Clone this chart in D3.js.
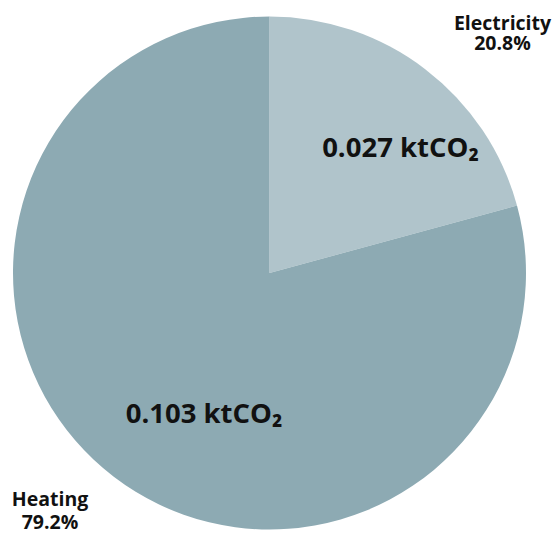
<!DOCTYPE html>
<html>
<head>
<meta charset="utf-8">
<script src="https://cdn.jsdelivr.net/npm/d3@7"></script>
<style>
  html, body { margin: 0; padding: 0; background: #ffffff; }
  svg { display: block; }
  text { font-family: "Open Sans", "Noto Sans", sans-serif; font-weight: 700; fill: #111111; }
</style>
</head>
<body>
<svg id="chart" width="556" height="533"></svg>
<script>
// Emissions by source
const categories = ["Electricity", "Heating"];
const emissions = [0.027, 0.103];           // ktCO2
const shares = ["20.8%", "79.2%"];
const colors = ["#b0c4cb", "#8daab3"];

const width = 556, height = 533;
const cx = 269.5, cy = 273, radius = 256.5;

const svg = d3.select("#chart");
const g = svg.append("g").attr("transform", `translate(${cx},${cy})`);

const pie = d3.pie().sort(null).value(d => d.value);
const data = categories.map((c, i) => ({ name: c, value: emissions[i], share: shares[i], color: colors[i] }));
const arcs = pie(data);

const arc = d3.arc().innerRadius(0).outerRadius(radius);

g.selectAll("path.slice")
  .data(arcs)
  .join("path")
  .attr("class", "slice")
  .attr("d", arc)
  .attr("fill", d => d.data.color);

// value labels inside the slices (baseline positions relative to the centre)
const valueOffsets = [[131, -116], [-65.5, 150]];
g.selectAll("text.value")
  .data(arcs)
  .join("text")
  .attr("class", "value")
  .attr("x", (d, i) => valueOffsets[i][0])
  .attr("y", (d, i) => valueOffsets[i][1])
  .attr("text-anchor", "middle")
  .attr("font-size", 27.5)
  .text(d => d3.format(".3f")(d.data.value) + " ktCO\u2082");

// category + share labels outside the pie (baselines)
const outerPos = [[502.5, 30, 19.5], [50, 506, 23]];
const outer = svg.selectAll("g.outer")
  .data(arcs)
  .join("g")
  .attr("class", "outer")
  .attr("transform", (d, i) => `translate(${outerPos[i][0]},${outerPos[i][1]})`);

outer.append("text")
  .attr("text-anchor", "middle")
  .attr("font-size", 19.5)
  .text(d => d.data.name);

outer.append("text")
  .attr("y", (d, i) => outerPos[i][2])
  .attr("text-anchor", "middle")
  .attr("font-size", 19.5)
  .text(d => d.data.share);
</script>
</body>
</html>
